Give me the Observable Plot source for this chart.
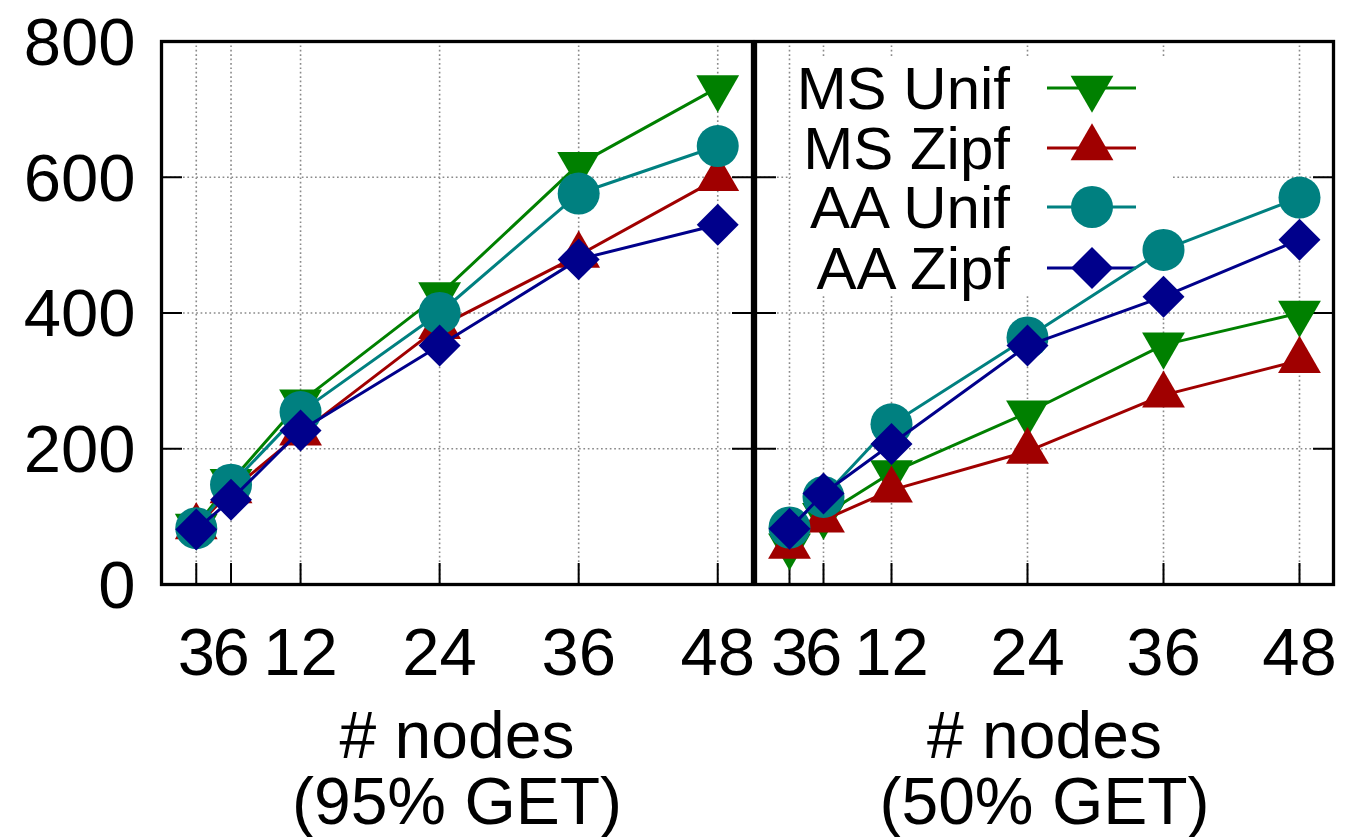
<!DOCTYPE html>
<html>
<head>
<meta charset="utf-8">
<script src="https://cdn.jsdelivr.net/npm/d3@7"></script>
<script src="https://cdn.jsdelivr.net/npm/@observablehq/plot@0.6"></script>
<style>
  html, body { margin: 0; padding: 0; background: #fff; }
  #chart { position: relative; width: 1347px; height: 837px; overflow: hidden; background: #fff; }
  #chart svg { position: absolute; top: 0; }
</style>
</head>
<body>
<div id="chart"></div>
<script>
// ---------------- data ----------------
const nodes = [3, 6, 12, 24, 36, 48];
const xTicks = [3, 6, 12, 24, 36, 48];
const yTicks = [0, 200, 400, 600, 800];
const seriesNames = ["MS Unif", "MS Zipf", "AA Unif", "AA Zipf"];

// 95% GET panel
const get95MsUnif = [86, 152, 269, 427, 619, 732];
const get95MsZipf = [85, 138, 223, 380, 485, 598];
const get95AaUnif = [83, 147, 254, 400, 576, 646];
const get95AaZipf = [81, 125, 227, 352, 479, 530];

// 50% GET panel
const get50MsUnif = [57, 102, 165, 253, 353, 400];
const get50MsZipf = [56, 95, 139, 196, 279, 330];
const get50AaUnif = [84, 129, 236, 364, 493, 570];
const get50AaZipf = [82, 134, 207, 352, 424, 508];

const panelLabels = ["# nodes\n(95% GET)", "# nodes\n(50% GET)"];

// ---------------- styles ----------------
const colors = ["#008000", "#a00000", "#008080", "#00008b"];
const symbols = ["triangle", "triangle", "circle", "diamond2"];
const rotations = [180, 0, 0, 0];
const radii = [15.9, 15.9, 21, 18.9];
const FONT = "'Liberation Sans', Arial, Helvetica, sans-serif";

function rowsFor(valueArrays) {
  return valueArrays.map((vals, s) => vals.map((v, i) => ({series: seriesNames[s], nodes: nodes[i], value: v})));
}

const gridStyle = {stroke: "#8a8a8a", strokeOpacity: 1, strokeWidth: 1.6, strokeDasharray: "1.7,2.7"};

function makePanel({valueArrays, label, width, marginLeft, marginRight, showY}) {
  const rows = rowsFor(valueArrays);
  const marks = [
    Plot.gridX(xTicks, gridStyle),
    Plot.gridY(yTicks.slice(1, -1), gridStyle),
    Plot.axisX(xTicks, {anchor: "bottom", tickSize: 21, dy: -21, tickFormat: () => "", stroke: "black", strokeWidth: 2}),
    Plot.axisY(yTicks.slice(1, -1), {anchor: "left", tickSize: 21, dx: 21, tickFormat: () => "", stroke: "black", strokeWidth: 2}),
    Plot.axisY(yTicks.slice(1, -1), {anchor: "right", tickSize: 21, dx: -21, tickFormat: () => "", stroke: "black", strokeWidth: 2}),
    Plot.axisX(xTicks, {anchor: "bottom", tickSize: 0, tickPadding: 43, fontSize: 67, fill: "black"}),
    Plot.text([label], {frameAnchor: "bottom", lineAnchor: "top", dy: 127, fontSize: 66, lineHeight: 1.0, fill: "black"})
  ];
  if (showY) {
    marks.push(Plot.axisY(yTicks, {anchor: "left", tickSize: 0, tickPadding: 26, fontSize: 67, fill: "black", dy: 2}));
  }
  rows.forEach((r, s) => {
    marks.push(Plot.line(r, {x: "nodes", y: "value", stroke: colors[s], strokeWidth: 3}));
    marks.push(Plot.dot(r, {x: "nodes", y: "value", symbol: symbols[s], r: radii[s], fill: colors[s], stroke: "none", rotate: rotations[s]}));
  });
  marks.push(Plot.frame({stroke: "black", strokeWidth: 3.3}));
  return Plot.plot({
    width,
    height: 837,
    marginLeft,
    marginRight,
    marginTop: 41,
    marginBottom: 253,
    style: {fontFamily: FONT, background: "transparent", color: "black"},
    x: {domain: [0, 51], label: null},
    y: {domain: [0, 800], label: null},
    marks
  });
}

const chart = document.getElementById("chart");

const left = makePanel({
  valueArrays: [get95MsUnif, get95MsZipf, get95AaUnif, get95AaZipf],
  label: panelLabels[0], width: 756, marginLeft: 161, marginRight: 4, showY: true
});
left.style.left = "0px";
chart.appendChild(left);

const RIGHT_OFFSET = 751;
const right = makePanel({
  valueArrays: [get50MsUnif, get50MsZipf, get50AaUnif, get50AaZipf],
  label: panelLabels[1], width: 596, marginLeft: 4, marginRight: 14, showY: false
});
right.style.left = RIGHT_OFFSET + "px";
chart.appendChild(right);

// ---------------- legend (inside right panel) ----------------
(function addLegend() {
  const ox = RIGHT_OFFSET;
  const g = d3.create("svg:g").attr("class", "legend");
  g.append("rect")
    .attr("x", 791 - ox).attr("y", 57)
    .attr("width", 1172 - 791).attr("height", 296 - 57)
    .attr("fill", "white");
  const rowY = [88, 148, 207, 268];
  const symTypes = [d3.symbolTriangle, d3.symbolTriangle, d3.symbolCircle, d3.symbolDiamond2];
  seriesNames.forEach((name, s) => {
    const y = rowY[s];
    g.append("text")
      .attr("x", 1010 - ox).attr("y", y)
      .attr("dy", "0.35em")
      .attr("text-anchor", "end")
      .attr("font-family", FONT)
      .attr("font-size", 60)
      .attr("fill", "black")
      .text(name);
    g.append("line")
      .attr("x1", 1047 - ox).attr("x2", 1136 - ox)
      .attr("y1", y).attr("y2", y)
      .attr("stroke", colors[s]).attr("stroke-width", 3);
    g.append("path")
      .attr("d", d3.symbol(symTypes[s], Math.PI * radii[s] * radii[s])())
      .attr("transform", `translate(${1092 - ox},${y}) rotate(${rotations[s]})`)
      .attr("fill", colors[s]);
  });
  const firstLine = right.querySelector('g[aria-label="line"]');
  if (firstLine) right.insertBefore(g.node(), firstLine);
  else right.appendChild(g.node());
})();
</script>
</body>
</html>
